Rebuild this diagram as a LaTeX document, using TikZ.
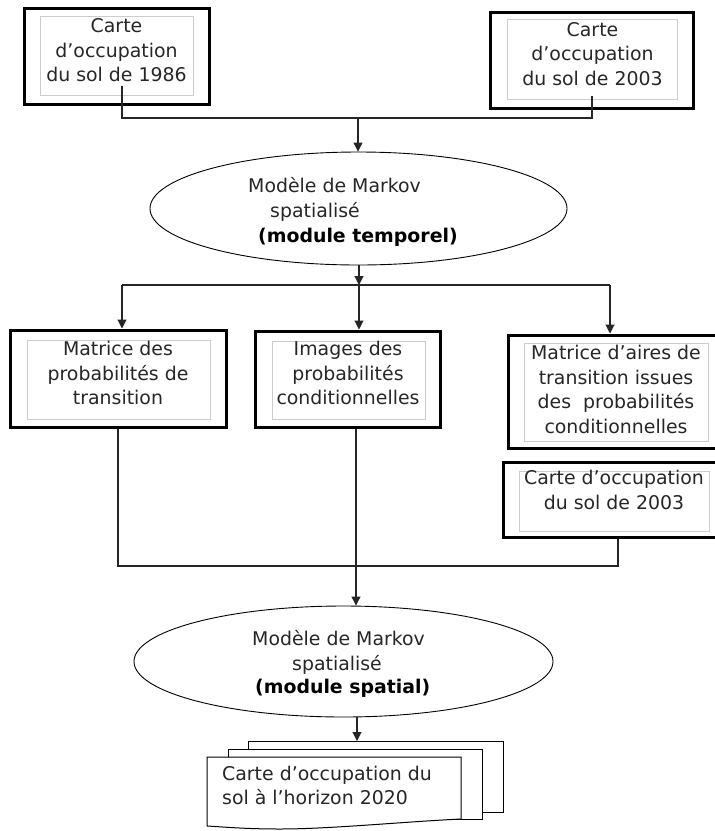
\documentclass[tikz,border=0pt]{standalone}
\usepackage{fontspec}
\setmainfont{DejaVu Sans}
\usetikzlibrary{shapes.geometric,arrows.meta}
\begin{document}
\begin{tikzpicture}[x=1pt,y=-1pt,
  outerbox/.style={draw=black, line width=3pt, rectangle, inner sep=0pt},
  innerbox/.style={draw=gray!40, line width=0.9pt, rectangle, inner sep=0pt},
  txt/.style={font=\fontsize{18.9}{24.5}\selectfont, text=black!85, inner sep=0pt, align=center},
  lbl/.style={font=\fontsize{18.9}{24.5}\selectfont, text=black!85, inner sep=0pt, anchor=base west},
  lblb/.style={font=\fontsize{18.9}{24.5}\selectfont\bfseries, text=black, inner sep=0pt, anchor=base west},
  ell/.style={draw=black, line width=0.9pt, ellipse, inner sep=0pt},
  conn/.style={draw=black!85, line width=1.1pt},
  arr/.style={conn, -{Triangle[width=9pt,length=9pt]}},
  sheet/.style={draw=black, line width=1pt, fill=white}]
\useasboundingbox (0,0) rectangle (715,831);

% top boxes
\node[outerbox, minimum width=185pt, minimum height=96pt] (c86) at (116.5,56) {};
\node[innerbox, minimum width=153pt, minimum height=79pt] (c86i) at (116.5,55.5) {};
\node[txt] (c86t) at (116.5,50.5) {Carte\\d’occupation\\du sol de 1986};

\node[outerbox, minimum width=203pt, minimum height=96pt] (c03) at (591.5,60) {};
\node[innerbox, minimum width=170pt, minimum height=80pt] (c03i) at (592,59) {};
\node[txt] (c03t) at (592.5,54) {Carte\\d’occupation\\du sol de 2003};

% ellipse 1
\node[ell, minimum width=417pt, minimum height=113pt] (e1) at (358.5,208.5) {};
\node[lbl] (e1a) at (248,192) {Modèle de Markov};
\node[lbl] (e1b) at (270,217) {spatialisé};
\node[lblb] (e1c) at (258,242) {(module temporel)};

% middle boxes
\node[outerbox, minimum width=216pt, minimum height=97pt] (b1) at (118,378.5) {};
\node[innerbox, minimum width=183pt, minimum height=79pt] (b1i) at (118.5,379.5) {};
\node[txt] (b1t) at (118,373) {Matrice des\\probabilités de\\transition};

\node[outerbox, minimum width=185pt, minimum height=96pt] (b2) at (347.5,379) {};
\node[innerbox, minimum width=153pt, minimum height=78pt] (b2i) at (348.5,380) {};
\node[txt] (b2t) at (348,373) {Images des\\probabilités\\conditionnelles};

\node[outerbox, minimum width=209pt, minimum height=113pt] (b3) at (612.5,391.5) {};
\node[innerbox, minimum width=184pt, minimum height=98pt] (b3i) at (616,392.5) {};
\node[txt] (b3t) at (616,389.3) {Matrice d’aires de\\transition issues\\des~~probabilités\\conditionnelles};

\node[outerbox, minimum width=214pt, minimum height=75pt] (b4) at (610,499.5) {};
\node[innerbox, minimum width=190pt, minimum height=60pt] (b4i) at (614,501) {};
\node[txt] (b4t) at (614,490) {Carte d’occupation\\du sol de 2003};

% ellipse 2
\node[ell, minimum width=419pt, minimum height=111pt] (e2) at (343.5,661.5) {};
\node[lbl] (e2a) at (252,645) {Modèle de Markov};
\node[lbl] (e2b) at (292,670) {spatialisé};
\node[lblb] (e2c) at (255,693) {(module spatial)};

% document stack
\draw[sheet] (248,741) rectangle (503,812);
\draw[sheet] (228,749) rectangle (482,819);
\draw[sheet] (207,757) -- (461,757) -- (461,819) .. controls (400,822) and (330,829) .. (280,829) .. controls (245,829) and (225,827) .. (207,826) -- cycle;
\node[lbl] (dt1) at (222,780) {Carte d’occupation du};
\node[lbl] (dt2) at (222,804.5) {sol à l’horizon 2020};
\coordinate (dtop) at (357,741);

% connectors top
\coordinate (s1) at (122,86);
\coordinate (s2) at (592,96);
\coordinate (m1) at (358,118);
\draw[conn] (s1) -- (s1 |- m1) -- (s2 |- m1) -- (s2);
\draw[arr] (m1) -- (m1 |- e1.north);

\coordinate (m2) at (359,285);
\coordinate (m2l) at (122,285);
\coordinate (m2r) at (610,285);
\draw[arr] (m2 |- e1.south) -- (m2);
\draw[conn] (m2l) -- (m2r);
\draw[arr] (m2l) -- (m2l |- b1.north);
\draw[arr] (m2) -- (m2 |- b2.north);
\draw[arr] (m2r) -- (m2r |- b3.north);

% connectors bottom
\coordinate (k4) at (618,566);
\draw[conn] (b1.south) |- (k4) -- (k4 |- b4.south);
\coordinate (k2) at (356,427);
\draw[arr] (k2 |- b2.south) -- (k2 |- e2.north);
\draw[arr] (dtop |- e2.south) -- (dtop);
\end{tikzpicture}
\end{document}
